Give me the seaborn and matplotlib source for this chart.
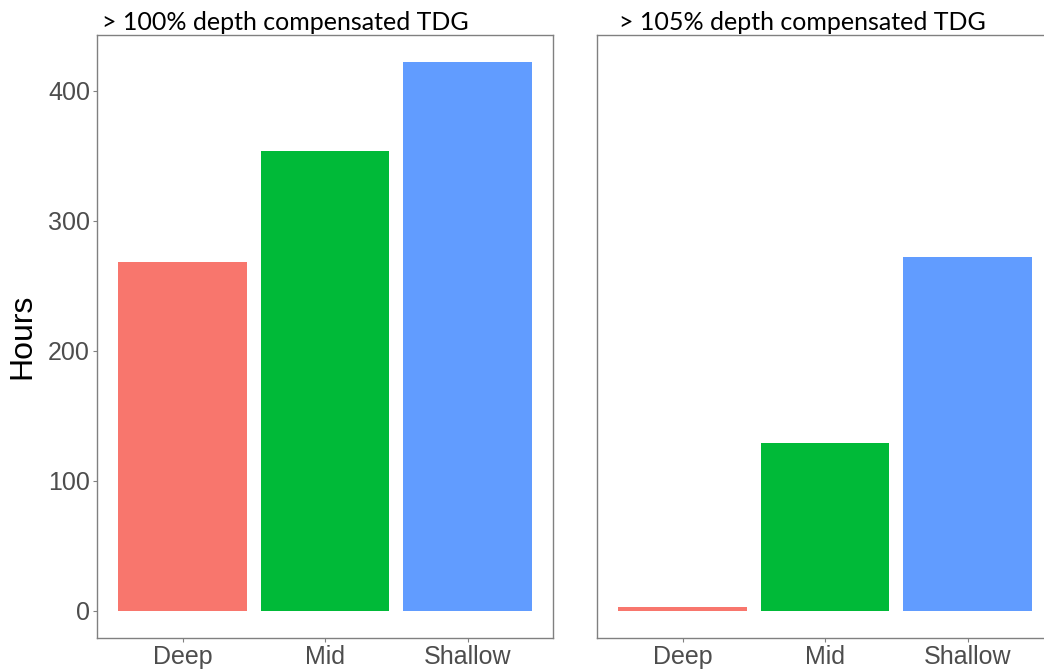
import pandas as pd
import seaborn as sns
import matplotlib.pyplot as plt

depths = ["Deep", "Mid", "Shallow"]
hours_100 = [268, 354, 422]
hours_105 = [3, 129, 272]
titles = ["> 100% depth compensated TDG", "> 105% depth compensated TDG"]
colors = ["#F8766D", "#00BA38", "#619CFF"]

sns.set_style("white")
plt.rcParams["font.family"] = ["Liberation Sans", "DejaVu Sans"]

fig = plt.figure(figsize=(10.44, 6.7), dpi=100)
# right panel runs past the figure edge, as in the cropped original
ax1 = fig.add_axes([97 / 1044, 32 / 670, 456 / 1044, 603 / 670])
ax2 = fig.add_axes([597 / 1044, 32 / 670, 456 / 1044, 603 / 670], sharey=ax1)
axes = [ax1, ax2]
title_x = [0.012, 0.048]

for ax, vals, title, tx in zip(axes, [hours_100, hours_105], titles, title_x):
    df = pd.DataFrame({"depth": depths, "hours": vals})
    sns.barplot(data=df, x="depth", y="hours", hue="depth", palette=colors,
                width=0.9, legend=False, ax=ax, saturation=1, linewidth=0)
    ax.set_xlim(-0.6, 2.6)
    ax.set_ylim(-21.1, 443.1)
    ax.set_xlabel("")
    ax.set_ylabel("")
    ax.text(tx, 1.002, title, transform=ax.transAxes, fontsize=18,
            family=["Lato", "DejaVu Sans"], va="bottom", ha="left", color="black")
    for s in ax.spines.values():
        s.set_color("#808080")
        s.set_linewidth(1.0)
    ax.tick_params(axis="both", labelsize=18, colors="#4D4D4D", length=3,
                   width=0.8, direction="out", left=True, bottom=True, pad=2)
    ax.tick_params(axis="both", color="#808080")

ax1.set_yticks([0, 100, 200, 300, 400])
ax1.set_ylabel("Hours", fontsize=23, color="black", labelpad=8)
ax2.tick_params(axis="y", left=False, labelleft=False)

plt.savefig("out.png", dpi=100)
